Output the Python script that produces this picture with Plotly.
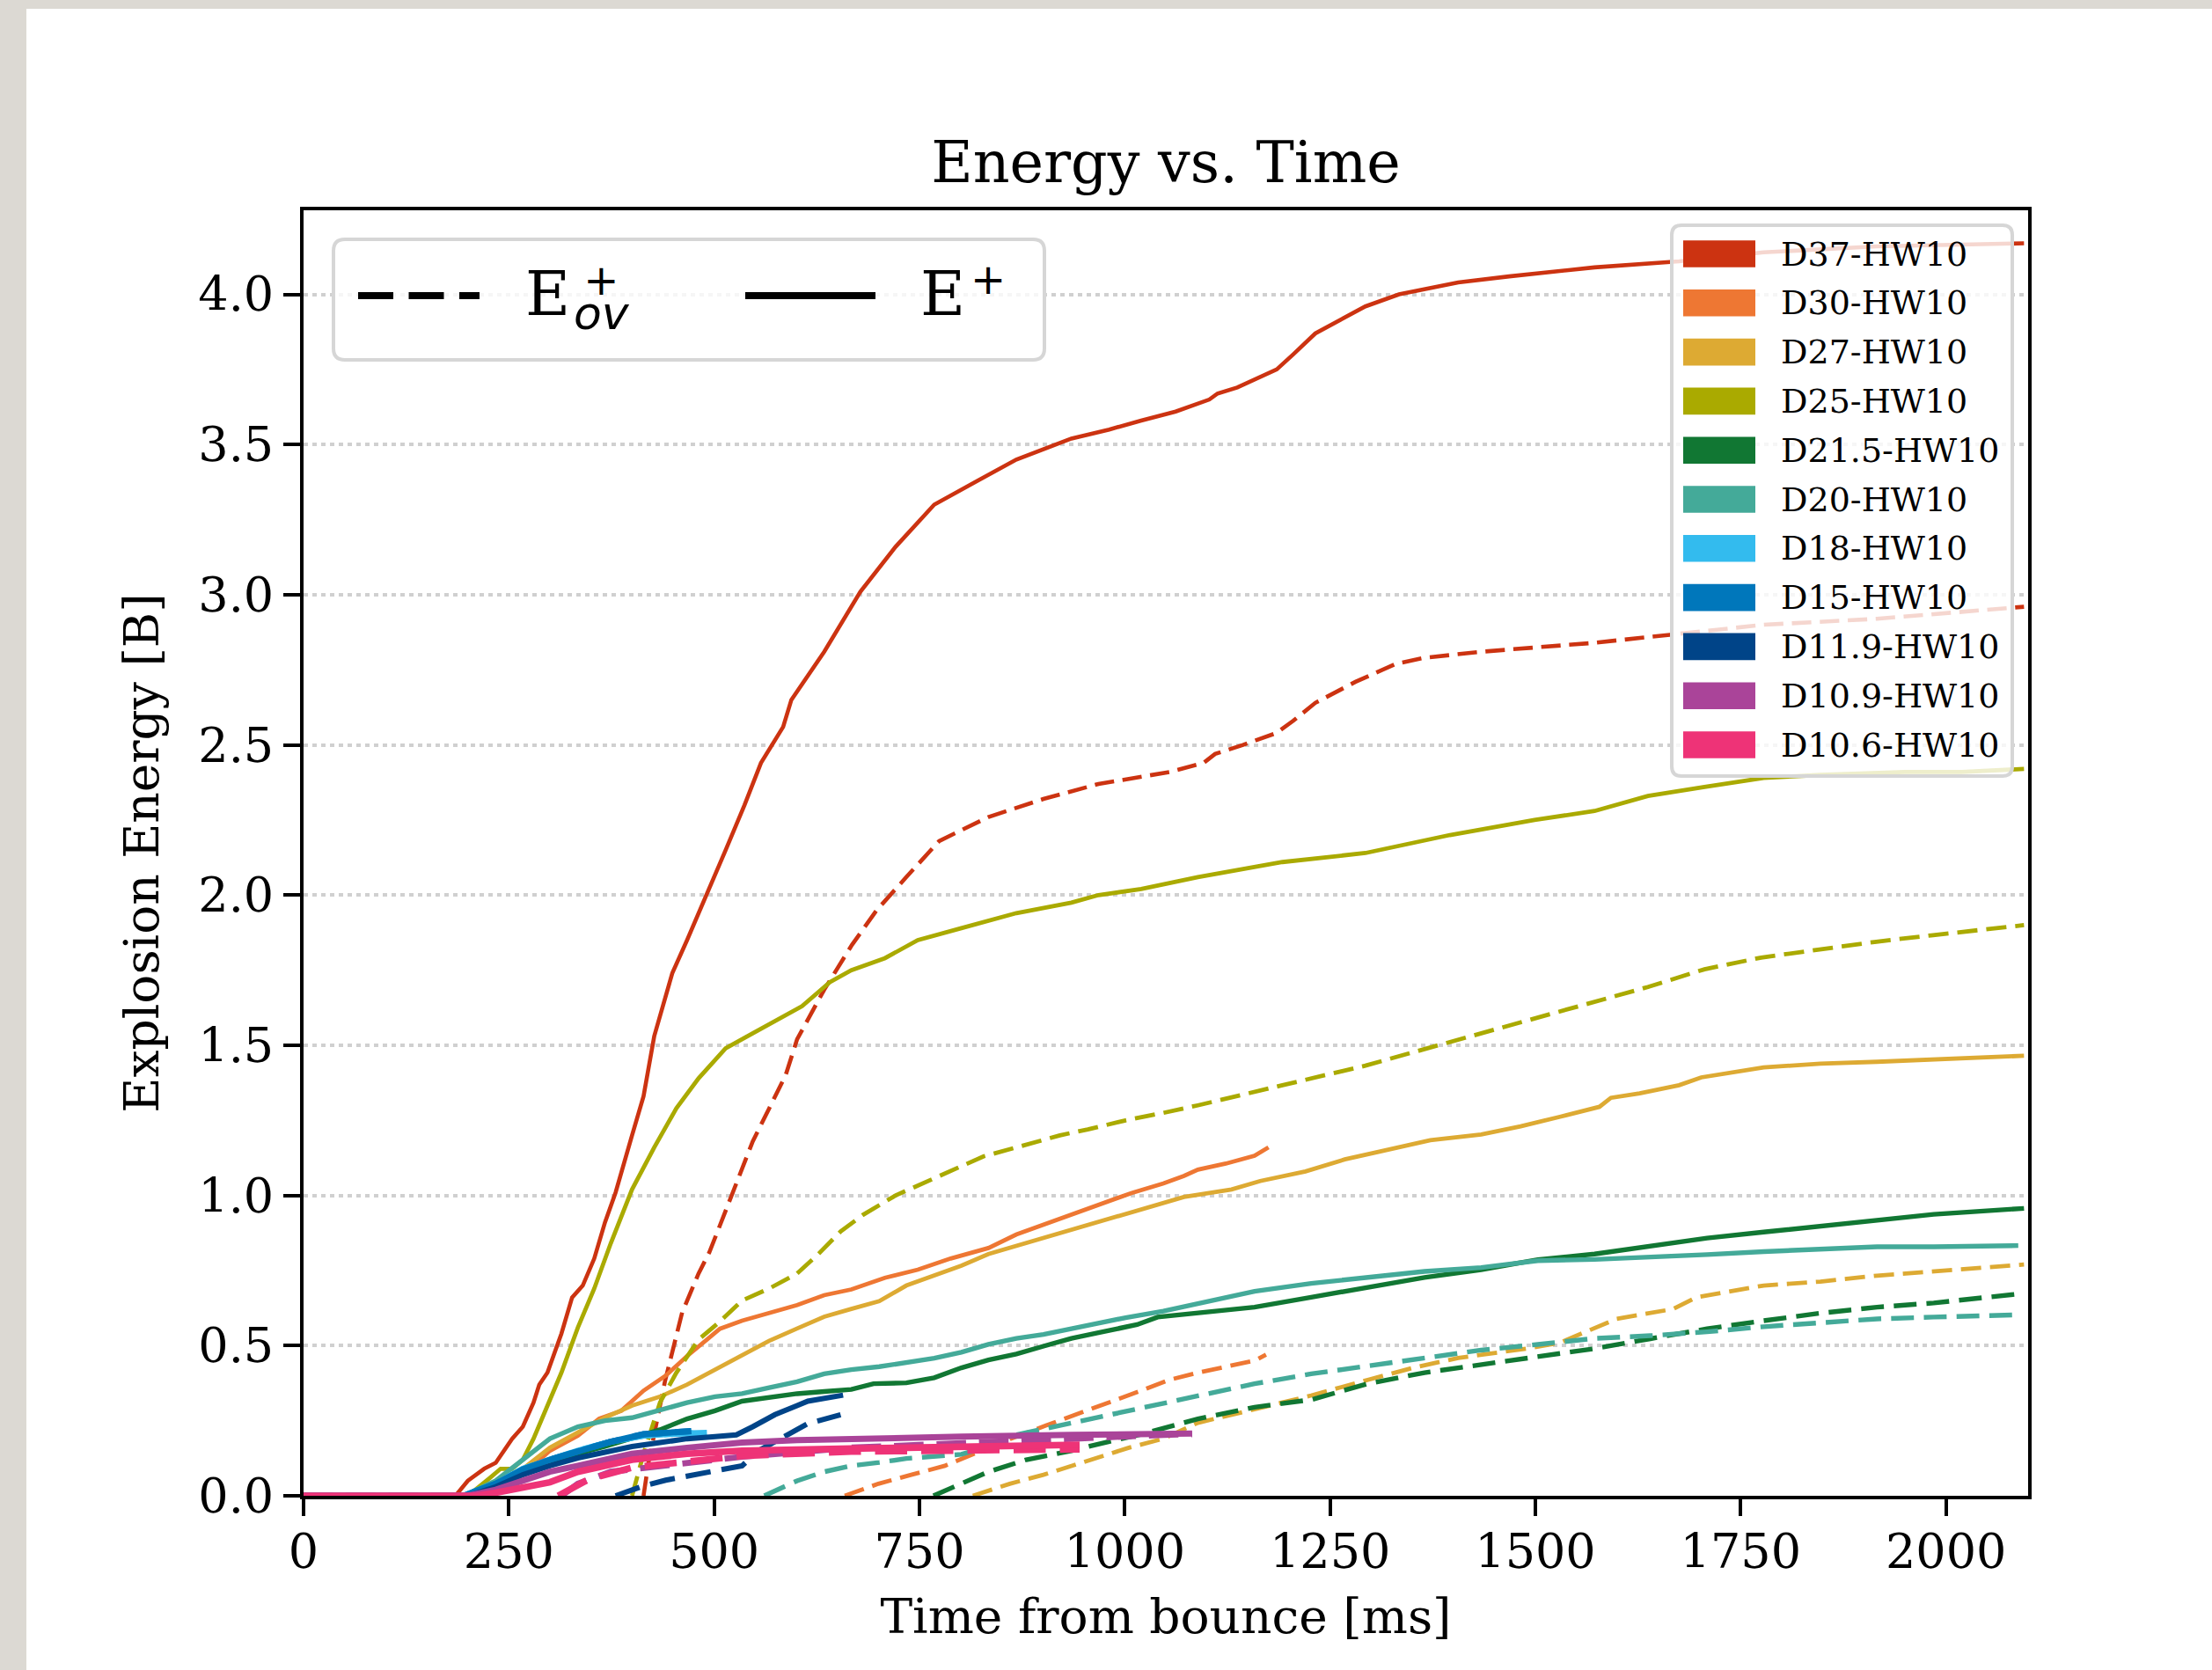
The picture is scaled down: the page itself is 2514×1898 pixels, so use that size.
import plotly.graph_objects as go

# ---------------- data ----------------
models = ["D37-HW10", "D30-HW10", "D27-HW10", "D25-HW10", "D21.5-HW10", "D20-HW10",
          "D18-HW10", "D15-HW10", "D11.9-HW10", "D10.9-HW10", "D10.6-HW10"]
colors = ["#cc3311", "#ee7733", "#ddaa33", "#aaaa00", "#117733", "#44aa99",
          "#33bbee", "#0077bb", "#004488", "#aa4499", "#ee3377"]

x_ticks = [0, 250, 500, 750, 1000, 1250, 1500, 1750, 2000]
y_ticks = [0.0, 0.5, 1.0, 1.5, 2.0, 2.5, 3.0, 3.5, 4.0]

# E+ (solid) and E_ov+ (dashed); time in ms, energy in B
t_pos_D37 = [0, 185, 200, 220, 234, 254, 267, 280, 287, 297, 314, 327, 340, 354, 367, 380, 400, 414, 427, 449,
             467, 494, 514, 537, 557, 584, 594, 634, 678, 721, 768, 821, 868, 935, 981, 1020, 1062, 1103, 1113, 1137,
             1185, 1205, 1232, 1293, 1334, 1406, 1468, 1572, 1675, 1778, 1916, 2095]
e_pos_D37 = [0, 0.0, 0.05, 0.09, 0.11, 0.19, 0.23, 0.31, 0.37, 0.41, 0.54, 0.66, 0.70, 0.79, 0.91, 1.01, 1.20, 1.33, 1.53, 1.74,
             1.85, 2.02, 2.15, 2.30, 2.44, 2.56, 2.65, 2.81, 3.01, 3.16, 3.30, 3.38, 3.45, 3.52, 3.55, 3.58, 3.61, 3.65, 3.67, 3.69,
             3.75, 3.80, 3.87, 3.96, 4.00, 4.04, 4.06, 4.09, 4.11, 4.14, 4.16, 4.17]
t_ov_D37 = [414, 420, 440, 461, 481, 494, 507, 527, 547, 567, 587, 601, 634, 668, 698, 734, 774, 834, 901, 968,
            1020, 1055, 1096, 1110, 1144, 1185, 1205, 1232, 1281, 1330, 1365, 1433, 1572, 1675, 1778, 1916, 2095]
e_ov_D37 = [0, 0.11, 0.38, 0.61, 0.74, 0.81, 0.90, 1.04, 1.18, 1.29, 1.40, 1.52, 1.685, 1.835, 1.95, 2.06, 2.18, 2.26, 2.32, 2.37,
            2.395, 2.41, 2.44, 2.47, 2.50, 2.54, 2.58, 2.64, 2.71, 2.77, 2.79, 2.81, 2.84, 2.87, 2.90, 2.92, 2.96]

t_pos_D30 = [0, 190, 234, 267, 300, 334, 360, 387, 414, 441, 467, 507, 534, 567, 601, 634, 667, 708, 748, 788,
             834, 868, 908, 948, 981, 1008, 1047, 1072, 1089, 1123, 1158, 1175]
e_pos_D30 = [0, 0, 0.03, 0.07, 0.15, 0.20, 0.257, 0.283, 0.35, 0.40, 0.465, 0.556, 0.583, 0.61, 0.635, 0.668, 0.687, 0.726, 0.753, 0.79,
             0.825, 0.87, 0.91, 0.95, 0.98, 1.008, 1.04, 1.065, 1.086, 1.106, 1.132, 1.16]
t_ov_D30 = [659, 700, 740, 781, 821, 861, 905, 948, 985, 1020, 1053, 1089, 1123, 1158, 1172]
e_ov_D30 = [0, 0.04, 0.07, 0.10, 0.145, 0.19, 0.235, 0.28, 0.315, 0.35, 0.385, 0.41, 0.43, 0.45, 0.47]

t_pos_D27 = [0, 195, 234, 267, 300, 334, 367, 400, 434, 467, 501, 534, 567, 601, 634, 667, 701, 734, 768, 801,
             834, 868, 901, 935, 968, 1001, 1047, 1072, 1130, 1165, 1220, 1268, 1310, 1372, 1434, 1482, 1530, 1578, 1592, 1627,
             1675, 1702, 1778, 1847, 1916, 1985, 2095]
e_pos_D27 = [0, 0, 0.04, 0.09, 0.16, 0.21, 0.26, 0.30, 0.33, 0.37, 0.42, 0.47, 0.516, 0.557, 0.596, 0.622, 0.648, 0.70, 0.733, 0.766,
             0.805, 0.832, 0.857, 0.883, 0.91, 0.935, 0.975, 0.995, 1.02, 1.048, 1.08, 1.12, 1.146, 1.184, 1.203, 1.23, 1.262, 1.295, 1.325, 1.34,
             1.367, 1.393, 1.426, 1.439, 1.445, 1.452, 1.465]
t_ov_D27 = [815, 860, 901, 935, 968, 1005, 1047, 1089, 1158, 1227, 1296, 1351, 1406, 1489, 1530, 1565, 1599, 1668, 1696, 1778,
            1847, 1916, 1985, 2095]
e_ov_D27 = [0, 0.04, 0.07, 0.10, 0.13, 0.16, 0.19, 0.243, 0.288, 0.334, 0.386, 0.426, 0.459, 0.49, 0.51, 0.55, 0.589, 0.622, 0.661, 0.70,
            0.713, 0.733, 0.746, 0.77]

t_pos_D25 = [0, 200, 227, 240, 254, 267, 280, 294, 314, 334, 354, 374, 400, 427, 454, 481, 514, 547, 574, 607,
             641, 667, 708, 748, 801, 868, 935, 968, 1020, 1089, 1192, 1293, 1396, 1499, 1572, 1637, 1706, 1778, 1847, 1950,
             2019, 2095]
e_pos_D25 = [0, 0, 0.06, 0.09, 0.09, 0.12, 0.19, 0.28, 0.41, 0.56, 0.69, 0.84, 1.02, 1.16, 1.29, 1.39, 1.49, 1.54, 1.58, 1.63,
             1.71, 1.75, 1.79, 1.85, 1.89, 1.94, 1.975, 2.0, 2.02, 2.06, 2.11, 2.14, 2.20, 2.25, 2.28, 2.33, 2.36, 2.39, 2.40, 2.41,
             2.41, 2.42]
t_ov_D25 = [400, 414, 434, 454, 481, 507, 534, 567, 601, 627, 654, 681, 721, 754, 788, 828, 868, 921, 955, 1001,
            1047, 1089, 1192, 1293, 1362, 1431, 1499, 1568, 1637, 1706, 1775, 1844, 1913, 1982, 2095]
e_ov_D25 = [0, 0.14, 0.31, 0.41, 0.52, 0.58, 0.65, 0.69, 0.74, 0.805, 0.88, 0.935, 1.0, 1.04, 1.08, 1.13, 1.16, 1.20, 1.22, 1.25,
            1.275, 1.30, 1.367, 1.432, 1.485, 1.537, 1.59, 1.64, 1.694, 1.753, 1.792, 1.818, 1.844, 1.866, 1.90]

t_pos_D21_5 = [0, 200, 250, 300, 334, 367, 400, 434, 467, 501, 534, 567, 601, 634, 667, 694, 734, 768, 801, 834,
               868, 901, 935, 968, 1015, 1040, 1089, 1158, 1227, 1296, 1365, 1434, 1503, 1572, 1640, 1709, 1778, 1847, 1916, 1985,
               2095]
e_pos_D21_5 = [0, 0, 0.06, 0.11, 0.14, 0.164, 0.19, 0.22, 0.256, 0.283, 0.315, 0.328, 0.34, 0.347, 0.354, 0.373, 0.376, 0.393, 0.426, 0.452,
               0.472, 0.498, 0.524, 0.543, 0.57, 0.595, 0.608, 0.628, 0.661, 0.694, 0.727, 0.753, 0.786, 0.805, 0.832, 0.858, 0.878, 0.898, 0.917, 0.937,
               0.957]
t_ov_D21_5 = [767, 800, 834, 880, 935, 980, 1020, 1089, 1158, 1227, 1296, 1365, 1434, 1503, 1572, 1640, 1709, 1778, 1847, 1916,
              1985, 2095]
e_ov_D21_5 = [0, 0.04, 0.08, 0.12, 0.15, 0.18, 0.205, 0.256, 0.295, 0.32, 0.373, 0.41, 0.438, 0.465, 0.49, 0.523, 0.556, 0.583, 0.608, 0.628,
              0.642, 0.674]

t_pos_D20 = [0, 195, 234, 267, 300, 334, 367, 400, 427, 467, 501, 534, 567, 601, 634, 667, 701, 734, 768, 801,
             834, 868, 901, 935, 968, 1001, 1047, 1089, 1158, 1227, 1296, 1365, 1434, 1503, 1572, 1640, 1709, 1778, 1847, 1916,
             1985, 2088]
e_pos_D20 = [0, 0, 0.05, 0.12, 0.19, 0.23, 0.25, 0.26, 0.28, 0.31, 0.33, 0.34, 0.36, 0.38, 0.406, 0.42, 0.43, 0.445, 0.458, 0.478,
             0.504, 0.524, 0.537, 0.556, 0.576, 0.593, 0.615, 0.641, 0.681, 0.707, 0.727, 0.747, 0.76, 0.783, 0.787, 0.793, 0.803, 0.813, 0.82, 0.829,
             0.829, 0.833]
t_ov_D20 = [561, 601, 634, 667, 701, 734, 801, 834, 868, 935, 1001, 1047, 1089, 1158, 1227, 1296, 1365, 1434, 1503, 1572,
            1640, 1709, 1778, 1847, 1916, 1985, 2081]
e_ov_D20 = [0, 0.05, 0.08, 0.10, 0.111, 0.124, 0.138, 0.164, 0.203, 0.243, 0.282, 0.308, 0.334, 0.373, 0.406, 0.432, 0.458, 0.485, 0.504, 0.524,
            0.533, 0.546, 0.563, 0.576, 0.589, 0.595, 0.602]

t_pos_D18 = [0, 195, 234, 267, 300, 334, 374, 414, 454, 491]
e_pos_D18 = [0, 0, 0.04, 0.09, 0.12, 0.15, 0.18, 0.20, 0.207, 0.21]
t_ov_D18 = [0, 195, 234, 267, 300, 334, 374, 414, 454, 491]
e_ov_D18 = [0, 0, 0.04, 0.09, 0.12, 0.15, 0.18, 0.20, 0.207, 0.21]

t_pos_D15 = [0, 195, 234, 267, 300, 334, 374, 414, 440, 472]
e_pos_D15 = [0, 0, 0.04, 0.087, 0.12, 0.15, 0.18, 0.205, 0.21, 0.215]
t_ov_D15 = [0, 195, 234, 267, 300, 334, 374, 414, 440, 472]
e_ov_D15 = [0, 0, 0.04, 0.087, 0.12, 0.15, 0.18, 0.205, 0.21, 0.215]

t_pos_D11_9 = [0, 200, 234, 267, 300, 334, 367, 400, 434, 467, 501, 527, 547, 574, 601, 614, 657]
e_pos_D11_9 = [0, 0, 0.03, 0.07, 0.10, 0.126, 0.145, 0.164, 0.177, 0.19, 0.197, 0.203, 0.23, 0.27, 0.30, 0.315, 0.335]
t_ov_D11_9 = [380, 414, 441, 467, 507, 534, 554, 581, 614, 654]
e_ov_D11_9 = [0, 0.033, 0.052, 0.065, 0.085, 0.10, 0.15, 0.19, 0.24, 0.27]

t_pos_D10_9 = [0, 200, 234, 267, 300, 334, 367, 400, 467, 534, 601, 667, 801, 935, 1047, 1082]
e_pos_D10_9 = [0, 0, 0.02, 0.05, 0.08, 0.10, 0.12, 0.14, 0.16, 0.177, 0.185, 0.19, 0.197, 0.203, 0.206, 0.207]
t_ov_D10_9 = [314, 334, 374, 434, 534, 667, 801, 935, 1047, 1082]
e_ov_D10_9 = [0, 0.04, 0.08, 0.10, 0.13, 0.16, 0.177, 0.19, 0.203, 0.205]

t_pos_D10_6 = [0, 210, 234, 267, 300, 334, 367, 400, 467, 534, 667, 801, 945]
e_pos_D10_6 = [0, 0, 0.01, 0.03, 0.045, 0.08, 0.10, 0.12, 0.14, 0.15, 0.157, 0.164, 0.17]
t_ov_D10_6 = [310, 347, 400, 467, 534, 667, 801, 945]
e_ov_D10_6 = [0, 0.055, 0.094, 0.114, 0.133, 0.147, 0.153, 0.155]

series_pos = [(t_pos_D37, e_pos_D37), (t_pos_D30, e_pos_D30), (t_pos_D27, e_pos_D27), (t_pos_D25, e_pos_D25),
              (t_pos_D21_5, e_pos_D21_5), (t_pos_D20, e_pos_D20), (t_pos_D18, e_pos_D18), (t_pos_D15, e_pos_D15),
              (t_pos_D11_9, e_pos_D11_9), (t_pos_D10_9, e_pos_D10_9), (t_pos_D10_6, e_pos_D10_6)]
series_ov = [(t_ov_D37, e_ov_D37), (t_ov_D30, e_ov_D30), (t_ov_D27, e_ov_D27), (t_ov_D25, e_ov_D25),
             (t_ov_D21_5, e_ov_D21_5), (t_ov_D20, e_ov_D20), (t_ov_D18, e_ov_D18), (t_ov_D15, e_ov_D15),
             (t_ov_D11_9, e_ov_D11_9), (t_ov_D10_9, e_ov_D10_9), (t_ov_D10_6, e_ov_D10_6)]

# ---------------- styling ----------------
line_widths = [4.6, 4.8, 4.8, 4.8, 5.4, 5.4, 6.8, 7.0, 6.0, 7.0, 7.6]
SERIF = "DejaVu Serif"
SANS = "DejaVu Sans"

W, H = 2514, 1898
L, R, T, B = 345, 2305, 239, 1700   # plot area in page pixels


def px(x):
    return (x - L) / (R - L)


def py(y):
    return (B - y) / (B - T)


def rounded_rect(x0, y0, x1, y1, r):
    X0, X1, Y0, Y1 = px(x0), px(x1), py(y0), py(y1)
    rx, ry = r / (R - L), r / (B - T)
    return (f"M{X0+rx},{Y0} L{X1-rx},{Y0} Q{X1},{Y0} {X1},{Y0-ry} "
            f"L{X1},{Y1+ry} Q{X1},{Y1} {X1-rx},{Y1} L{X0+rx},{Y1} Q{X0},{Y1} {X0},{Y1+ry} "
            f"L{X0},{Y0-ry} Q{X0},{Y0} {X0+rx},{Y0} Z")


fig = go.Figure()

for i, name in enumerate(models):
    w = line_widths[i]
    t_ov, e_ov = series_ov[i]
    t_p, e_p = series_pos[i]
    fig.add_trace(go.Scatter(x=t_ov, y=e_ov, mode="lines", name=name + " E_ov+",
                             line=dict(color=colors[i], width=w,
                                       dash=f"{4.8*w:.1f}px,{2.1*w:.1f}px"),
                             showlegend=False, hoverinfo="skip"))
    fig.add_trace(go.Scatter(x=t_p, y=e_p, mode="lines", name=name + " E+",
                             line=dict(color=colors[i], width=w),
                             showlegend=False, hoverinfo="skip"))

shapes = []
annotations = []

# textured page border (left and top strips)
shapes.append(dict(type="rect", xref="paper", yref="paper", x0=px(0), x1=px(30), y0=py(W), y1=py(0),
                   fillcolor="#dcd9d3", line=dict(width=0), layer="below"))
shapes.append(dict(type="rect", xref="paper", yref="paper", x0=px(0), x1=px(W), y0=py(10), y1=py(0),
                   fillcolor="#dcd9d3", line=dict(width=0), layer="below"))

# ---- line-style legend (top left)
shapes.append(dict(type="path", xref="paper", yref="paper", path=rounded_rect(379, 272, 1187, 409, 13),
                   fillcolor="rgba(255,255,255,0.8)", line=dict(color="#d6d6d6", width=4), layer="above"))
shapes.append(dict(type="line", xref="paper", yref="paper", x0=px(407), x1=px(545), y0=py(336), y1=py(336),
                   line=dict(color="black", width=8, dash="40px,17.5px"), layer="above"))
shapes.append(dict(type="line", xref="paper", yref="paper", x0=px(847), x1=px(995), y0=py(336), y1=py(336),
                   line=dict(color="black", width=8), layer="above"))
annotations += [
    dict(text="E", x=px(596), y=py(334), xref="paper", yref="paper", xanchor="left", yanchor="middle",
         showarrow=False, borderpad=0, font=dict(family=SERIF, size=70, color="black")),
    # stacked superscript "+" over subscript "ov" (one text, two lines)
    dict(text=("<span style='font-family:DejaVu Sans;font-size:48px'>+</span><br>"
               "<span style='font-family:DejaVu Sans;font-size:52px'><i>ov</i></span>"),
         x=px(684), y=py(387), xref="paper", yref="paper", xanchor="center", yanchor="bottom",
         align="center", showarrow=False, borderpad=0, font=dict(family=SANS, size=30, color="black")),
    dict(text="E", x=px(1045), y=py(334), xref="paper", yref="paper", xanchor="left", yanchor="middle",
         showarrow=False, borderpad=0, font=dict(family=SERIF, size=70, color="black")),
    dict(text="+", x=px(1123), y=py(317), xref="paper", yref="paper", xanchor="center", yanchor="middle",
         showarrow=False, borderpad=0, font=dict(family=SANS, size=48, color="black")),
]

# ---- model legend (top right)
shapes.append(dict(type="path", xref="paper", yref="paper", path=rounded_rect(1900, 256, 2287, 882, 11),
                   fillcolor="rgba(255,255,255,0.8)", line=dict(color="#d6d6d6", width=4), layer="above"))
for i, name in enumerate(models):
    yc = 288.5 + 55.8 * i
    shapes.append(dict(type="rect", xref="paper", yref="paper", x0=px(1913), x1=px(1995),
                       y0=py(yc + 15.3), y1=py(yc - 15.3), fillcolor=colors[i],
                       line=dict(width=0), layer="above"))
    annotations.append(dict(text=name, x=px(2022), y=py(yc), xref="paper", yref="paper",
                            xanchor="left", yanchor="middle", showarrow=False,
                            font=dict(family=SERIF, size=38, color="black")))

fig.update_layout(
    width=W, height=H,
    margin=dict(l=L, r=W - R, t=T, b=H - B, pad=0),
    paper_bgcolor="white", plot_bgcolor="white",
    showlegend=False,
    font=dict(family=SERIF, size=52, color="black"),
    title=dict(text="Energy vs. Time", x=0.5, xref="paper", xanchor="center",
               y=1 - 184 / H, yref="container", yanchor="middle",
               font=dict(family=SERIF, size=65, color="black")),
    shapes=shapes, annotations=annotations,
)

fig.update_xaxes(range=[0, 2100], tickvals=x_ticks, ticktext=[str(v) for v in x_ticks],
                 ticks="outside", ticklen=19, tickwidth=3.5, tickcolor="black",
                 showline=True, mirror=True, linewidth=4, linecolor="black",
                 showgrid=False, zeroline=False, ticklabelstandoff=-6,
                 tickfont=dict(family=SERIF, size=54, color="black"),
                 title=dict(text="Time from bounce [ms]", standoff=25,
                            font=dict(family=SERIF, size=55, color="black")))
fig.update_yaxes(range=[0, 4.28], tickvals=y_ticks, ticktext=[f"{v:.1f}" for v in y_ticks],
                 ticks="outside", ticklen=19, tickwidth=3.5, tickcolor="black",
                 showline=True, mirror=True, linewidth=4, linecolor="black",
                 showgrid=True, gridcolor="#d0d0d0", gridwidth=3.5, griddash="5px,5px",
                 zeroline=False, ticklabelstandoff=0,
                 tickfont=dict(family=SERIF, size=54, color="black"),
                 title=dict(text="Explosion Energy [B]", standoff=28,
                            font=dict(family=SERIF, size=55, color="black")))

fig.write_html("out.html")
